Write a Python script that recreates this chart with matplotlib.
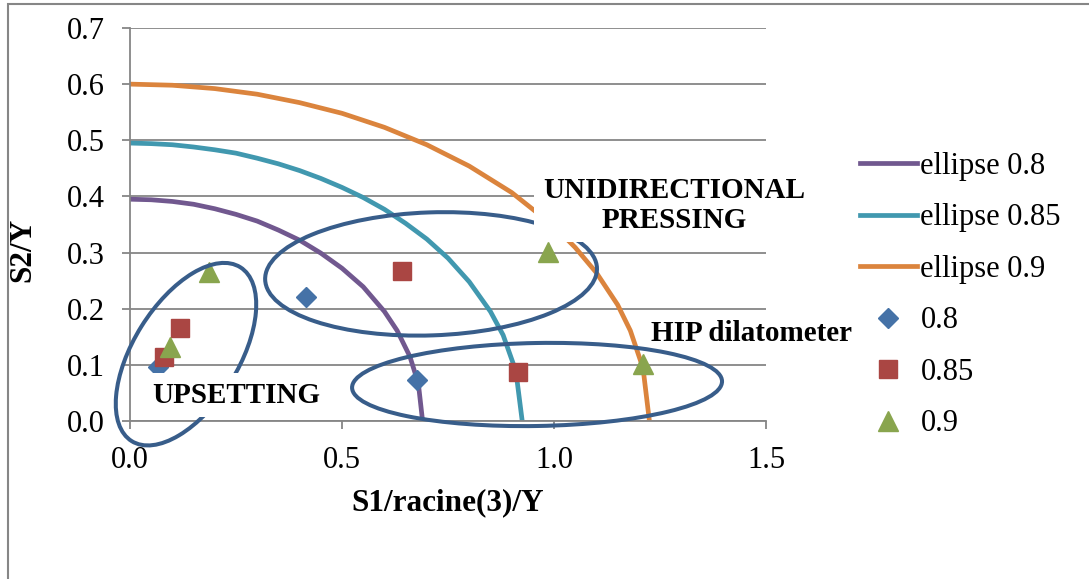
import matplotlib
matplotlib.use("Agg")
import matplotlib.pyplot as plt
from matplotlib.patches import Ellipse, Rectangle
from matplotlib.transforms import IdentityTransform, ScaledTranslation
from matplotlib.ticker import FormatStrFormatter

plt.rcParams['font.family'] = ['Liberation Serif', 'DejaVu Serif']

# yield surfaces (S1/sqrt(3)/Y, S2/Y) for each relative density
ell_08_x = [0.0, 0.05, 0.1, 0.15, 0.2, 0.25, 0.3, 0.35, 0.4, 0.45, 0.5, 0.55, 0.6,
            0.63, 0.66, 0.68, 0.69]
ell_08_y = [0.395, 0.394, 0.391, 0.386, 0.378, 0.368, 0.356, 0.340, 0.322, 0.299,
            0.272, 0.239, 0.195, 0.161, 0.115, 0.067, 0.0]

ell_085_x = [0.0, 0.05, 0.1, 0.15, 0.2, 0.25, 0.3, 0.35, 0.4, 0.45, 0.5, 0.55, 0.6,
             0.65, 0.7, 0.75, 0.8, 0.85, 0.88, 0.91, 0.925]
ell_085_y = [0.495, 0.494, 0.492, 0.488, 0.483, 0.477, 0.468, 0.458, 0.446, 0.432,
             0.416, 0.398, 0.377, 0.352, 0.324, 0.290, 0.248, 0.195, 0.153, 0.089, 0.0]

ell_09_x = [0.0, 0.1, 0.2, 0.3, 0.4, 0.5, 0.6, 0.7, 0.8, 0.9, 1.0, 1.05, 1.1, 1.15,
            1.18, 1.21, 1.225]
ell_09_y = [0.600, 0.598, 0.592, 0.582, 0.567, 0.548, 0.523, 0.492, 0.454, 0.407,
            0.347, 0.309, 0.264, 0.207, 0.161, 0.094, 0.0]

# measured points
pts_08_x = [0.066, 0.414, 0.677]
pts_08_y = [0.096, 0.221, 0.073]
pts_085_x = [0.080, 0.118, 0.641, 0.915]
pts_085_y = [0.114, 0.166, 0.267, 0.088]
pts_09_x = [0.094, 0.187, 0.986, 1.209]
pts_09_y = [0.132, 0.265, 0.301, 0.101]

# test zones: centre (data), width/height (px), tilt (deg)
zone_names = ["UPSETTING", "UNIDIRECTIONAL\nPRESSING", "HIP dilatometer"]
zone_centers = [(0.132, 0.119), (0.710, 0.262), (0.960, 0.065)]
zone_sizes = [(205, 105, 58), (332, 123, 2), (370, 83, 1)]
zone_text_pos = [(0.250, 0.046), (1.283, 0.384), (1.465, 0.156)]

fig = plt.figure(figsize=(10.89, 5.79), dpi=100)
ax = fig.add_axes([0.1194, 0.2729, 0.584, 0.6788])

grid_col = '#868686'
ax.set_xlim(0, 1.5)
ax.set_ylim(0, 0.7)
ax.set_xticks([0.0, 0.5, 1.0, 1.5])
ax.set_yticks([0.0, 0.1, 0.2, 0.3, 0.4, 0.5, 0.6, 0.7])
ax.xaxis.set_major_formatter(FormatStrFormatter('%.1f'))
ax.yaxis.set_major_formatter(FormatStrFormatter('%.1f'))
ax.yaxis.grid(True, color=grid_col, lw=1.3)
ax.set_axisbelow(True)
for s in ['top', 'right']:
    ax.spines[s].set_visible(False)
for s in ['left', 'bottom']:
    ax.spines[s].set_color(grid_col)
    ax.spines[s].set_linewidth(1.3)
ax.tick_params(direction='out', length=6, width=1.3, color=grid_col,
               labelsize=22, pad=12)

ax.plot(ell_08_x, ell_08_y, color='#71588F', lw=3.4, label='ellipse 0.8', zorder=2)
ax.plot(ell_085_x, ell_085_y, color='#4198AF', lw=3.4, label='ellipse 0.85', zorder=2)
ax.plot(ell_09_x, ell_09_y, color='#DB843D', lw=3.4, label='ellipse 0.9', zorder=2)

ax.plot(pts_08_x, pts_08_y, 'D', color='#4572A7', ms=10, ls='none', label='0.8', zorder=3)
ax.plot(pts_085_x, pts_085_y, 's', color='#AA4643', ms=13, ls='none', label='0.85', zorder=3)
ax.plot(pts_09_x, pts_09_y, '^', color='#89A54E', ms=14, ls='none', label='0.9', zorder=3)

for (cx, cy), (w, h, ang) in zip(zone_centers, zone_sizes):
    tr = IdentityTransform() + ScaledTranslation(cx, cy, ax.transData)
    e = Ellipse((0, 0), w, h, angle=ang, transform=tr, fill=False,
                ec='#385D8A', lw=2.9, zorder=4, clip_on=False)
    ax.add_artist(e)

for name, (tx, ty) in zip(zone_names, zone_text_pos):
    bg = None
    if name != "HIP dilatometer":
        bg = dict(boxstyle='square,pad=0.3', fc='white', ec='none')
    ax.text(tx, ty, name, ha='center', va='center', fontsize=21,
            fontweight='bold', linespacing=1.12, bbox=bg, zorder=5, clip_on=False)

ax.set_xlabel('S1/racine(3)/Y', fontsize=22.5, fontweight='bold')
ax.xaxis.set_label_coords(0.5, -0.17)
ax.set_ylabel('S2/Y', fontsize=22.5, fontweight='bold')
ax.yaxis.set_label_coords(-0.146, 0.436)

leg = fig.legend(loc='upper left', bbox_to_anchor=(860 / 1089, 1 - 152 / 579),
                 frameon=False, fontsize=22, handlelength=1.85, handletextpad=0.13,
                 labelspacing=0.735, borderpad=0, borderaxespad=0)

# outer chart border
fig.patches.append(Rectangle((8 / 1089, -0.2), 1.2, 1.2 - 4 / 579, transform=fig.transFigure,
                             fill=False, ec=grid_col, lw=1.5))

fig.savefig('out.png', dpi=100)
